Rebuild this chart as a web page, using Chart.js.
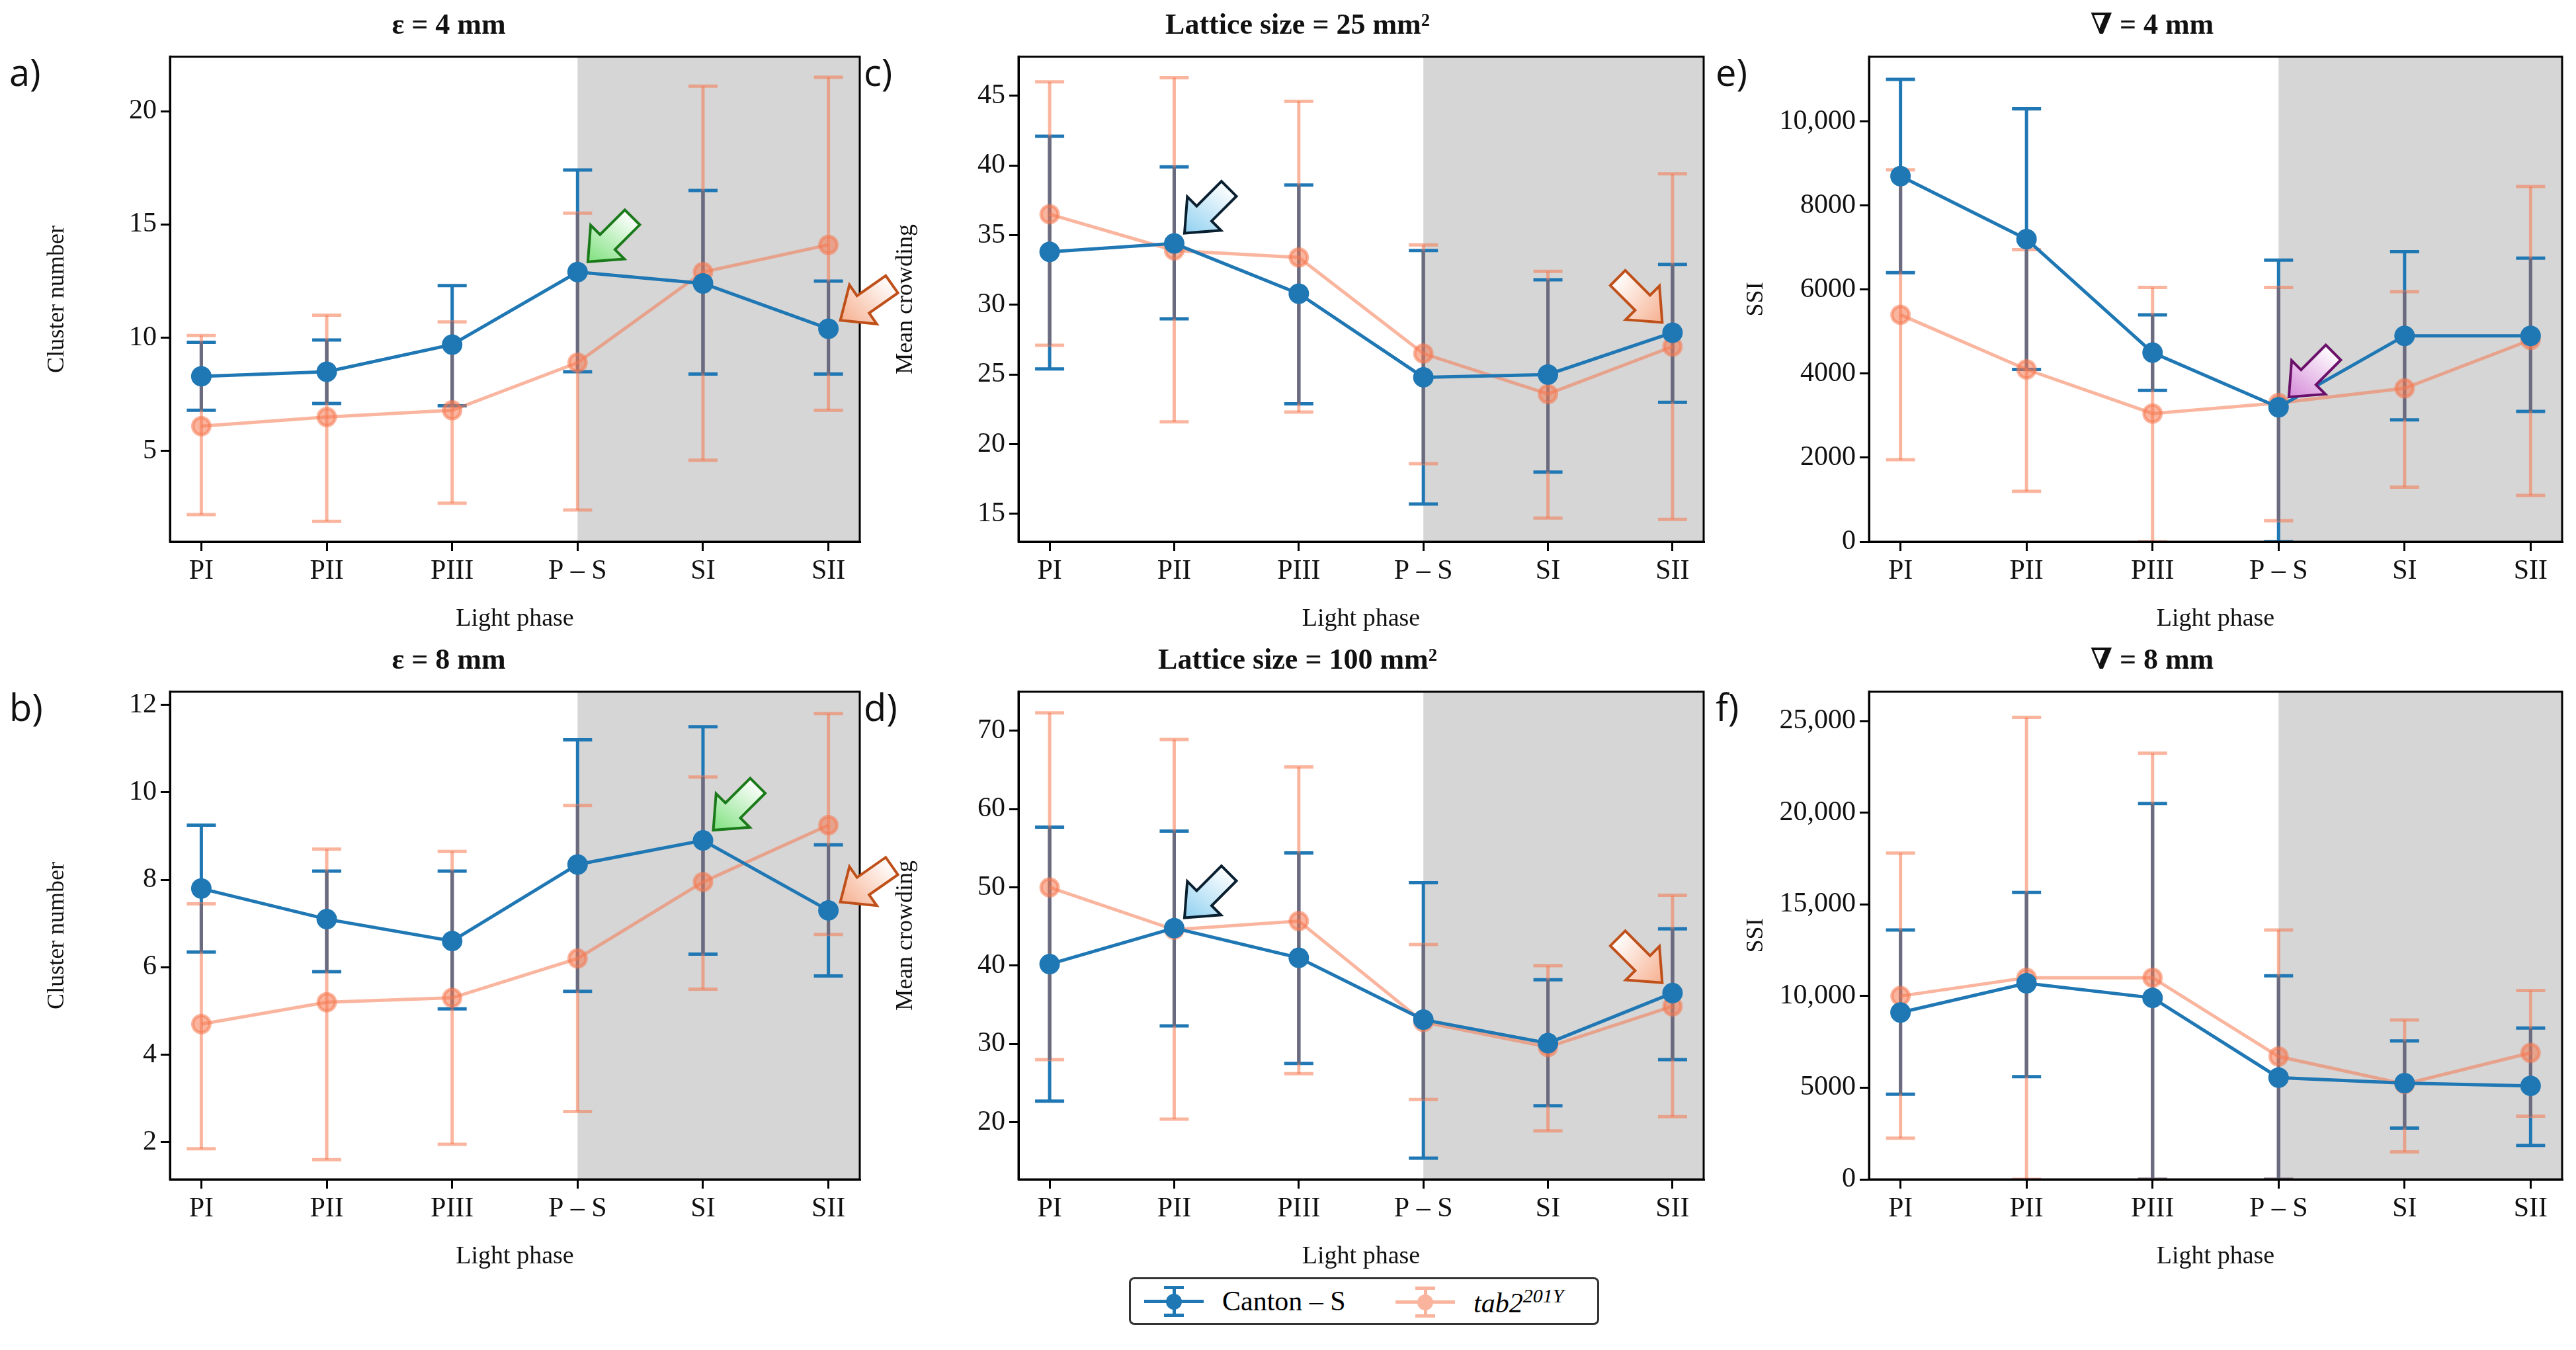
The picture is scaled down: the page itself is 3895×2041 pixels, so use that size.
<!DOCTYPE html>
<html>
<head>
<meta charset="utf-8">
<script src="https://cdn.jsdelivr.net/npm/chart.js@4.4.1/dist/chart.umd.min.js"></script>
<style>
  body { margin: 0; width: 3895px; height: 2041px; background: #fff; position: relative; overflow: hidden; }
  canvas { position: absolute; }
  .lbl { position: absolute; font-family: "Open Sans", sans-serif; font-size: 56px; color: #111; }
  .legend { position: absolute; left: 1707px; top: 1931px; width: 705px; height: 66px; border: 3px solid #333; border-radius: 8px;
    font-family: "Liberation Serif", serif; font-size: 42px; background: #fff; }
  .item { position: absolute; top: 8px; display: flex; align-items: center; }
  .sym { position: relative; width: 90px; height: 50px; margin-right: 28px; }
  .sym .ln { position: absolute; left: 0; right: 0; top: 23px; height: 5px; }
  .sym .v { position: absolute; left: 43px; width: 5px; top: 4px; height: 42px; }
  .sym .c1, .sym .c2 { position: absolute; left: 30px; width: 30px; height: 5px; }
  .sym .c1 { top: 2px; } .sym .c2 { top: 44px; }
  .sym .dot { position: absolute; left: 33px; top: 14px; width: 24px; height: 24px; border-radius: 50%; }
</style>
</head>
<body>
<div class="lbl" style="left:14px;top:70px">a)</div>
<div class="lbl" style="left:14px;top:1030px">b)</div>
<div class="lbl" style="left:1306px;top:70px">c)</div>
<div class="lbl" style="left:1306px;top:1030px">d)</div>
<div class="lbl" style="left:2594px;top:70px">e)</div>
<div class="lbl" style="left:2594px;top:1030px">f)</div>

<canvas id="ca" width="1303" height="946" style="left:57px;top:13px"></canvas>
<canvas id="cc" width="1254" height="946" style="left:1340px;top:13px"></canvas>
<canvas id="ce" width="1266" height="946" style="left:2626px;top:13px"></canvas>
<canvas id="cb" width="1303" height="950" style="left:57px;top:973px"></canvas>
<canvas id="cd" width="1254" height="950" style="left:1340px;top:973px"></canvas>
<canvas id="cf" width="1266" height="950" style="left:2626px;top:973px"></canvas>

<div class="legend">
  <div class="item" style="left:20px">
    <div class="sym"><div class="ln" style="background:#1f77b4"></div><div class="v" style="background:#1f77b4"></div>
      <div class="c1" style="background:#1f77b4"></div><div class="c2" style="background:#1f77b4"></div><div class="dot" style="background:#1f77b4"></div></div>
    <span>Canton – S</span>
  </div>
  <div class="item" style="left:400px">
    <div class="sym" style="opacity:0.55"><div class="ln" style="background:#f67850"></div><div class="v" style="background:#f67850"></div>
      <div class="c1" style="background:#f67850"></div><div class="c2" style="background:#f67850"></div><div class="dot" style="background:#f67850"></div></div>
    <span style="font-style:italic">tab2<sup style="font-size:30px">201Y</sup></span>
  </div>
</div>

<script>
const phases = ['PI', 'PII', 'PIII', 'P – S', 'SI', 'SII'];

// a) cluster number, eps = 4 mm
const aBlue = [8.3, 8.5, 9.7, 12.9, 12.4, 10.4];
const aBlueLo = [6.8, 7.1, 7.0, 8.5, 8.4, 8.4];
const aBlueHi = [9.8, 9.9, 12.3, 17.4, 16.5, 12.5];
const aOrange = [6.1, 6.5, 6.8, 8.9, 12.9, 14.1];
const aOrangeLo = [2.2, 1.9, 2.7, 2.4, 4.6, 6.8];
const aOrangeHi = [10.1, 11.0, 10.7, 15.5, 21.1, 21.5];
const aTicks = [5, 10, 15, 20];

// b) cluster number, eps = 8 mm
const bBlue = [7.8, 7.1, 6.6, 8.35, 8.9, 7.3];
const bBlueLo = [6.35, 5.9, 5.05, 5.45, 6.3, 5.8];
const bBlueHi = [9.25, 8.2, 8.2, 11.2, 11.5, 8.8];
const bOrange = [4.7, 5.2, 5.3, 6.2, 7.95, 9.25];
const bOrangeLo = [1.85, 1.6, 1.95, 2.7, 5.5, 6.75];
const bOrangeHi = [7.45, 8.7, 8.65, 9.7, 10.35, 11.8];
const bTicks = [2, 4, 6, 8, 10, 12];

// c) mean crowding, 25 mm2
const cBlue = [33.8, 34.4, 30.8, 24.8, 25.0, 28.0];
const cBlueLo = [25.4, 29.0, 22.9, 15.7, 18.0, 23.0];
const cBlueHi = [42.1, 39.9, 38.6, 33.9, 31.8, 32.9];
const cOrange = [36.5, 33.9, 33.4, 26.5, 23.6, 27.0];
const cOrangeLo = [27.1, 21.6, 22.3, 18.6, 14.7, 14.6];
const cOrangeHi = [46.0, 46.3, 44.6, 34.3, 32.4, 39.4];
const cTicks = [15, 20, 25, 30, 35, 40, 45];

// d) mean crowding, 100 mm2
const dBlue = [40.2, 44.8, 41.0, 33.1, 30.1, 36.5];
const dBlueLo = [22.7, 32.3, 27.5, 15.4, 22.1, 28.0];
const dBlueHi = [57.7, 57.2, 54.4, 50.6, 38.2, 44.7];
const dOrange = [50.0, 44.6, 45.7, 32.8, 29.6, 34.8];
const dOrangeLo = [28.0, 20.4, 26.2, 22.9, 18.9, 20.7];
const dOrangeHi = [72.3, 68.9, 65.4, 42.7, 40.0, 49.0];
const dTicks = [20, 30, 40, 50, 60, 70];

// e) SSI, 4 mm
const eBlue = [8700, 7200, 4500, 3200, 4900, 4900];
const eBlueLo = [6400, 4100, 3600, 0, 2900, 3100];
const eBlueHi = [11000, 10300, 5400, 6700, 6900, 6750];
const eOrange = [5400, 4100, 3050, 3300, 3650, 4800];
const eOrangeLo = [1950, 1200, 0, 500, 1300, 1100];
const eOrangeHi = [8850, 6950, 6050, 6050, 5950, 8450];
const eTicks = [0, 2000, 4000, 6000, 8000, 10000];

// f) SSI, 8 mm
const fBlue = [9100, 10700, 9900, 5550, 5250, 5100];
const fBlueLo = [4650, 5600, 0, 0, 2800, 1850];
const fBlueHi = [13600, 15650, 20500, 11100, 7550, 8250];
const fOrange = [10000, 11000, 11000, 6700, 5200, 6900];
const fOrangeLo = [2250, 0, 0, 0, 1500, 3450];
const fOrangeHi = [17800, 25200, 23250, 13600, 8700, 10300];
const fTicks = [0, 5000, 10000, 15000, 20000, 25000];

const BLUE = '#1f77b4';
const ORANGE = 'rgba(246,120,80,0.55)';
const OVERLAP = '#6b6b80';
const SERIF = '"Liberation Serif", "DejaVu Serif", serif';

// block arrows: [category index, value, direction x, direction y, fill, stroke]
const arrowsA = [[3, 12.9, -1, 1, '#7ee07e', '#1a7a1a'], [5, 10.4, -1, 0.7, '#f6b090', '#c0501a']];
const arrowsB = [[4, 8.9, -1, 1, '#7ee07e', '#1a7a1a'], [5, 7.3, -1, 0.7, '#f6b090', '#c0501a']];
const arrowsC = [[1, 34.4, -1, 1, '#8fd0f0', '#0a2030'], [5, 28.0, 1, 1, '#f6b090', '#c0501a']];
const arrowsD = [[1, 44.8, -1, 1, '#8fd0f0', '#0a2030'], [5, 36.5, 1, 1, '#f6b090', '#c0501a']];
const arrowsE = [[3, 3200, -1, 1, '#d58ad8', '#6a106a']];

function fmtTick(v) {
  return v >= 10000 ? v.toLocaleString('en-US') : String(v);
}

function drawArrow(ctx, x, y, dx, dy, fill, stroke) {
  const len = Math.hypot(dx, dy);
  const ux = dx / len, uy = dy / len;
  const px = -uy, py = ux;
  const L = 95, H = 42, hw = 36, sw = 16;
  const tx = x - ux * 22, ty = y - uy * 22; // tip a little away from the point
  const pts = [
    [0, 0], [-H, hw], [-H, sw], [-L, sw], [-L, -sw], [-H, -sw], [-H, -hw]
  ].map(([a, b]) => [tx + ux * a + px * b, ty + uy * a + py * b]);
  ctx.save();
  ctx.beginPath();
  pts.forEach(([X, Y], i) => i ? ctx.lineTo(X, Y) : ctx.moveTo(X, Y));
  ctx.closePath();
  const g = ctx.createLinearGradient(pts[3][0], pts[3][1], tx, ty);
  g.addColorStop(0, '#ffffff');
  g.addColorStop(1, fill);
  ctx.fillStyle = g;
  ctx.fill();
  ctx.lineWidth = 4;
  ctx.strokeStyle = stroke;
  ctx.stroke();
  ctx.restore();
}

const panelPlugin = {
  id: 'panel',
  beforeDatasetsDraw(chart) {
    const { ctx, chartArea: a, scales: { x, y } } = chart;
    ctx.save();
    // dark phase shading
    ctx.fillStyle = '#d6d6d6';
    const x0 = x.getPixelForValue(3);
    ctx.fillRect(x0, a.top, a.right - x0, a.bottom - a.top);
    ctx.beginPath();
    ctx.rect(a.left, a.top, a.right - a.left, a.bottom - a.top);
    ctx.clip();
    // error bars
    const ds = chart.data.datasets;
    const bar = (i, lo, hi, color) => {
      const px = x.getPixelForValue(i);
      ctx.strokeStyle = color;
      ctx.lineWidth = 5;
      ctx.beginPath();
      ctx.moveTo(px, y.getPixelForValue(lo));
      ctx.lineTo(px, y.getPixelForValue(hi));
      ctx.stroke();
    };
    const cap = (i, v, color) => {
      const px = x.getPixelForValue(i), py = y.getPixelForValue(v);
      ctx.strokeStyle = color;
      ctx.lineWidth = 5;
      ctx.beginPath();
      ctx.moveTo(px - 22, py);
      ctx.lineTo(px + 22, py);
      ctx.stroke();
    };
    const b = ds[0], o = ds[1];
    for (let i = 0; i < b.data.length; i++) {
      bar(i, b.lo[i], b.hi[i], BLUE);
      cap(i, b.lo[i], BLUE); cap(i, b.hi[i], BLUE);
      bar(i, o.lo[i], o.hi[i], ORANGE);
      cap(i, o.lo[i], ORANGE); cap(i, o.hi[i], ORANGE);
      const lo = Math.max(b.lo[i], o.lo[i]), hi = Math.min(b.hi[i], o.hi[i]);
      if (hi > lo) bar(i, lo, hi, OVERLAP);
    }
    ctx.restore();
  },
  afterDraw(chart) {
    const { ctx, chartArea: a, scales: { x, y } } = chart;
    ctx.save();
    ctx.strokeStyle = '#000';
    ctx.lineWidth = 3;
    ctx.strokeRect(a.left, a.top, a.right - a.left, a.bottom - a.top);
    (chart.options.arrows || []).forEach(([i, v, dx, dy, f, s]) => {
      drawArrow(ctx, x.getPixelForValue(i), y.getPixelForValue(v), dx, dy, f, s);
    });
    ctx.restore();
  }
};

function makePanel(id, title, yTitle, mean1, lo1, hi1, mean2, lo2, hi2, ymin, ymax, ticks, arrows, padRight) {
  new Chart(document.getElementById(id), {
    type: 'line',
    data: {
      datasets: [
        { data: mean1.map((v, i) => ({ x: i, y: v })), lo: lo1, hi: hi1,
          borderColor: BLUE, backgroundColor: BLUE, borderWidth: 5, pointRadius: 13, pointHoverRadius: 13 },
        { data: mean2.map((v, i) => ({ x: i, y: v })), lo: lo2, hi: hi2,
          borderColor: ORANGE, backgroundColor: ORANGE, borderWidth: 5, pointRadius: 13, pointHoverRadius: 13 }
      ]
    },
    options: {
      responsive: false,
      animation: false,
      arrows: arrows,
      layout: { padding: { top: 0, right: padRight, left: 0, bottom: 0 } },
      plugins: {
        legend: { display: false },
        tooltip: { enabled: false },
        title: { display: true, text: title, color: '#111', font: { family: SERIF, size: 44 }, padding: { top: 0, bottom: 20 } }
      },
      scales: {
        x: {
          type: 'linear', min: -0.25, max: 5.25,
          afterBuildTicks: s => { s.ticks = phases.map((_, i) => ({ value: i })); },
          afterFit: s => { s.height = 140; },
          ticks: { callback: v => phases[v], color: '#111', font: { family: SERIF, size: 42 }, padding: 6, maxRotation: 0 },
          grid: { drawOnChartArea: false, color: '#000', tickLength: 14, lineWidth: 3 },
          border: { color: '#000', width: 3 },
          title: { display: true, text: 'Light phase', color: '#111', font: { family: SERIF, size: 38 }, padding: 0 }
        },
        y: {
          min: ymin, max: ymax,
          afterBuildTicks: s => { s.ticks = ticks.map(v => ({ value: v })); },
          afterFit: s => { s.width = 200; },
          ticks: { callback: fmtTick, color: '#111', font: { family: SERIF, size: 42 }, padding: 6 },
          grid: { drawOnChartArea: false, color: '#000', tickLength: 14, lineWidth: 3 },
          border: { color: '#000', width: 3 },
          title: { display: true, text: yTitle, color: '#111', font: { family: SERIF, size: 36 }, padding: 8 }
        }
      }
    },
    plugins: [panelPlugin]
  });
}

makePanel('ca', 'ε = 4 mm', 'Cluster number', aBlue, aBlueLo, aBlueHi, aOrange, aOrangeLo, aOrangeHi, 1.0, 22.4, aTicks, arrowsA, 60);
makePanel('cb', 'ε = 8 mm', 'Cluster number', bBlue, bBlueLo, bBlueHi, bOrange, bOrangeLo, bOrangeHi, 1.15, 12.3, bTicks, arrowsB, 60);
makePanel('cc', 'Lattice size = 25 mm²', 'Mean crowding', cBlue, cBlueLo, cBlueHi, cOrange, cOrangeLo, cOrangeHi, 13.0, 47.8, cTicks, arrowsC, 10);
makePanel('cd', 'Lattice size = 100 mm²', 'Mean crowding', dBlue, dBlueLo, dBlueHi, dOrange, dOrangeLo, dOrangeHi, 12.7, 75, dTicks, arrowsD, 10);
makePanel('ce', '∇ = 4 mm', 'SSI', eBlue, eBlueLo, eBlueHi, eOrange, eOrangeLo, eOrangeHi, 0, 11540, eTicks, arrowsE, 10);
makePanel('cf', '∇ = 8 mm', 'SSI', fBlue, fBlueLo, fBlueHi, fOrange, fOrangeLo, fOrangeHi, 0, 26600, fTicks, [], 10);
</script>
</body>
</html>
